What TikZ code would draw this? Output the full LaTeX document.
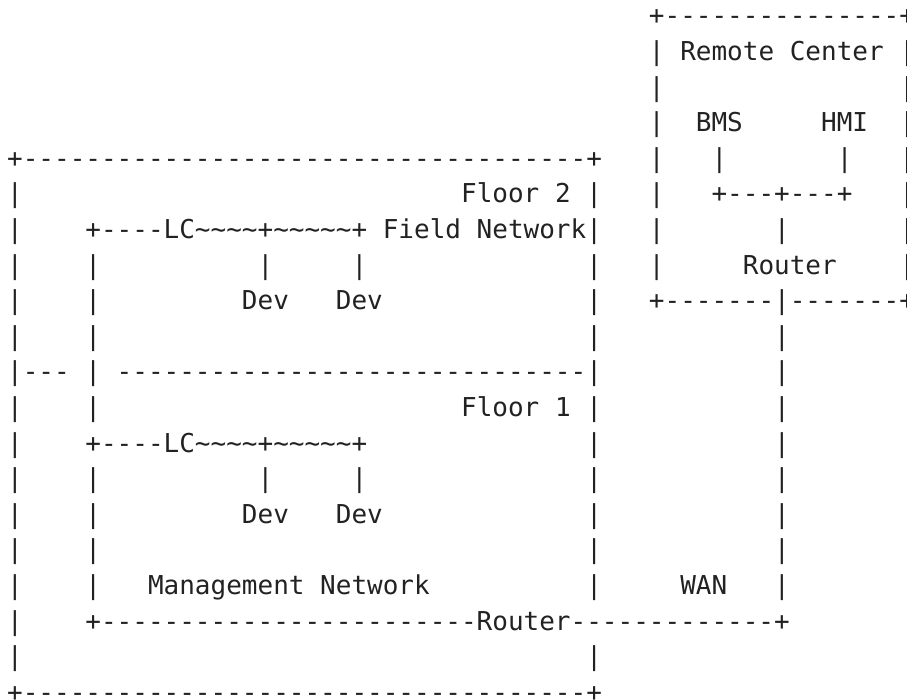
\documentclass[tikz,border=0pt]{standalone}
\usepackage{fontspec}
\setmonofont{DejaVu Sans Mono}
\definecolor{ink}{HTML}{222222}
\newcommand\blk[1]{\hspace*{#1\fontcharwd\font`x}}
\newcommand\tld{\textasciitilde}
\newcommand\dsh[1]{\foreach\k in {1,...,#1}{-}}
\tikzset{asciiline/.style={anchor=base west, inner sep=0pt, outer sep=0pt, text=ink,
  font=\ttfamily\fontsize{26}{35.6}\selectfont}}
\begin{document}
\begin{tikzpicture}
\fill[white] (0,0) rectangle (907pt,700pt);
\useasboundingbox (0,0) rectangle (907pt,700pt);
\def\x{7.17pt}
\node[asciiline] (r0)  at (\x,{675pt-0*35.6pt})  {\blk{41}+\dsh{15}+};
\node[asciiline] (r1)  at (\x,{675pt-1*35.6pt})  {\blk{41}|\blk{1}Remote\blk{1}Center\blk{1}|};
\node[asciiline] (r2)  at (\x,{675pt-2*35.6pt})  {\blk{41}|\blk{15}|};
\node[asciiline] (r3)  at (\x,{675pt-3*35.6pt})  {\blk{41}|\blk{2}BMS\blk{5}HMI\blk{2}|};
\node[asciiline] (r4)  at (\x,{675pt-4*35.6pt})  {+\dsh{36}+\blk{3}|\blk{3}|\blk{7}|\blk{3}|};
\node[asciiline] (r5)  at (\x,{675pt-5*35.6pt})  {|\blk{28}Floor\blk{1}2\blk{1}|\blk{3}|\blk{3}+\dsh{3}+\dsh{3}+\blk{3}|};
\node[asciiline] (r6)  at (\x,{675pt-6*35.6pt})  {|\blk{4}+\dsh{4}LC\tld\tld\tld\tld+\tld\tld\tld\tld\tld+\blk{1}Field\blk{1}Network|\blk{3}|\blk{7}|\blk{7}|};
\node[asciiline] (r7)  at (\x,{675pt-7*35.6pt})  {|\blk{4}|\blk{10}|\blk{5}|\blk{14}|\blk{3}|\blk{5}Router\blk{4}|};
\node[asciiline] (r8)  at (\x,{675pt-8*35.6pt})  {|\blk{4}|\blk{9}Dev\blk{3}Dev\blk{13}|\blk{3}+\dsh{7}|\dsh{7}+};
\node[asciiline] (r9)  at (\x,{675pt-9*35.6pt})  {|\blk{4}|\blk{31}|\blk{11}|};
\node[asciiline] (r10) at (\x,{675pt-10*35.6pt}) {|\dsh{3}\blk{1}|\blk{1}\dsh{30}|\blk{11}|};
\node[asciiline] (r11) at (\x,{675pt-11*35.6pt}) {|\blk{4}|\blk{23}Floor\blk{1}1\blk{1}|\blk{11}|};
\node[asciiline] (r12) at (\x,{675pt-12*35.6pt}) {|\blk{4}+\dsh{4}LC\tld\tld\tld\tld+\tld\tld\tld\tld\tld+\blk{14}|\blk{11}|};
\node[asciiline] (r13) at (\x,{675pt-13*35.6pt}) {|\blk{4}|\blk{10}|\blk{5}|\blk{14}|\blk{11}|};
\node[asciiline] (r14) at (\x,{675pt-14*35.6pt}) {|\blk{4}|\blk{9}Dev\blk{3}Dev\blk{13}|\blk{11}|};
\node[asciiline] (r15) at (\x,{675pt-15*35.6pt}) {|\blk{4}|\blk{31}|\blk{11}|};
\node[asciiline] (r16) at (\x,{675pt-16*35.6pt}) {|\blk{4}|\blk{3}Management\blk{1}Network\blk{10}|\blk{5}WAN\blk{3}|};
\node[asciiline] (r17) at (\x,{675pt-17*35.6pt}) {|\blk{4}+\dsh{24}Router\dsh{13}+};
\node[asciiline] (r18) at (\x,{675pt-18*35.6pt}) {|\blk{36}|};
\node[asciiline] (r19) at (\x,{675pt-19*35.6pt}) {+\dsh{36}+};
\end{tikzpicture}
\end{document}
